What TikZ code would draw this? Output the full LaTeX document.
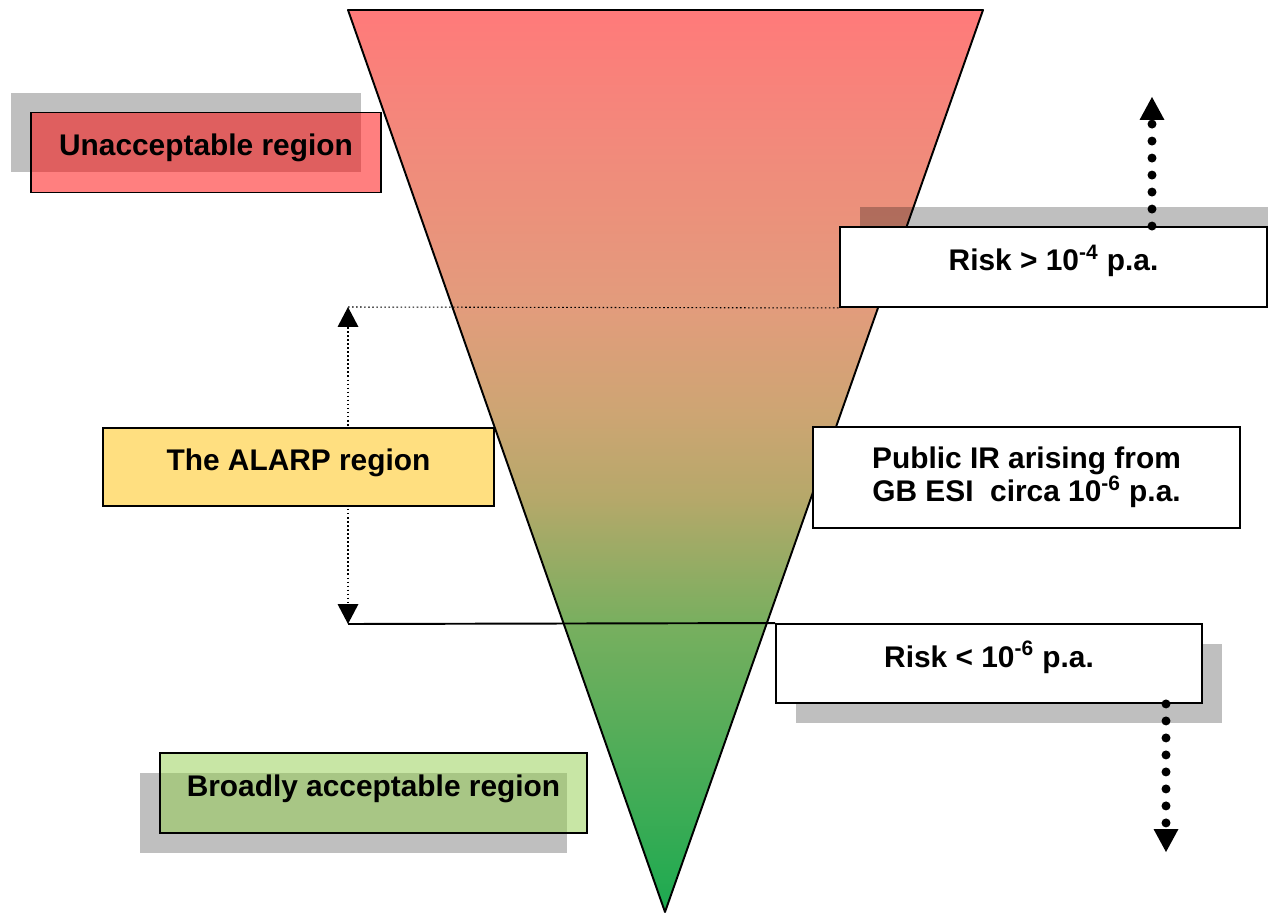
\documentclass[tikz,border=0pt]{standalone}
\usepackage{fontspec}
\setmainfont{Liberation Sans}
\usetikzlibrary{arrows.meta,shadows,positioning}

\definecolor{riskred}{RGB}{255,122,122}
\definecolor{risksalmon}{RGB}{226,156,124}
\definecolor{riskorange}{RGB}{205,165,115}
\definecolor{risktan}{RGB}{182,168,106}
\definecolor{riskolive}{RGB}{120,175,95}
\definecolor{riskgreen}{RGB}{28,170,80}
\definecolor{alarpyellow}{RGB}{255,223,128}
\definecolor{broadgreen}{RGB}{145,205,75}

\pgfdeclareverticalshading{riskfade}{100bp}{color(0bp)=(riskgreen); color(25bp)=(riskgreen);
  color(41bp)=(riskolive); color(48bp)=(risktan); color(52.6bp)=(riskorange);
  color(58.5bp)=(risksalmon); color(75bp)=(riskred); color(100bp)=(riskred)}

\newcommand{\boxfont}{\fontsize{17}{18.5}\selectfont\bfseries}

\tikzset{
  box/.style={draw, rectangle, line width=1.1pt, inner sep=0pt, font=\boxfont,
    align=center, minimum width=8.54cm, minimum height=1.6cm},
  oneline/.style={text height=0.5cm, text depth=0.36cm},
  boxshadow/.style 2 args={general shadow={shadow xshift=#1, shadow yshift=#2,
    fill=black, fill opacity=0.25, draw=none}},
  seethrough/.style={fill=#1, fill opacity=0.5, text opacity=1},
  thindots/.style={line width=0.9pt, dash pattern=on 0.9pt off 1.4pt},
  bigdots/.style={line width=0.18cm, line cap=round, dash pattern=on 0pt off 0.34cm,
    -{Triangle[width=0.5cm, length=0.46cm, line width=0pt]}},
  edge/.style={line width=1.1pt}
}

\begin{document}
\begin{tikzpicture}[x=0.02cm, y=-0.02cm]
  \useasboundingbox (0,0) rectangle (1268,915);

  % risk triangle
  \shade[shading=riskfade] (348,10) -- (983,10) -- (665,912) -- cycle;
  \draw[edge, line join=round] (348,10) -- (983,10) -- (665,912) -- cycle;

  % limits of the ALARP region
  \coordinate (alarptop) at (348,307);
  \coordinate (alarpbot) at (348,624);
  \coordinate (uptip) at (1152,97);
  \coordinate (downtip) at (1166,852);
  \draw[thindots, {Triangle[width=0.42cm, length=0.4cm, line width=0pt]}-{Triangle[width=0.42cm, length=0.4cm, line width=0pt]}]
    (alarptop) -- (alarpbot);

  \node[box, oneline, seethrough=red, boxshadow={-0.4cm}{0.4cm},
        minimum width=7cm] (unacc) at (206,152.5) {Unacceptable region};
  \node[box, oneline, fill=white, boxshadow={0.4cm}{0.4cm}] (riskhi) at (1053.5,267)
        {Risk > 10\textsuperscript{-4} p.a.};
  \node[box, oneline, fill=alarpyellow, minimum width=7.82cm, minimum height=1.56cm]
        (alarp) at (298.5,467) {The ALARP region};
  \node[box, fill=white, minimum height=2.02cm] (pubir) at (1026.5,477.5)
        {Public IR arising from\\GB ESI\ \ circa 10\textsuperscript{-6} p.a.};
  \node[box, oneline, fill=white, boxshadow={0.4cm}{-0.4cm}, minimum width=8.52cm,
        minimum height=1.58cm] (risklo) at (989,663.5) {Risk < 10\textsuperscript{-6} p.a.};
  \node[box, oneline, seethrough=broadgreen, boxshadow={-0.4cm}{-0.4cm}]
        (broad) at (373.5,793) {Broadly acceptable region};

  \draw[thindots, line width=0.6pt] (alarptop) -- (riskhi.south west);
  \draw[edge] (alarpbot) -- (risklo.north west);
  \draw[bigdots] (riskhi.north -| uptip) -- (uptip);
  \draw[bigdots] (risklo.south -| downtip) -- (downtip);
\end{tikzpicture}
\end{document}
